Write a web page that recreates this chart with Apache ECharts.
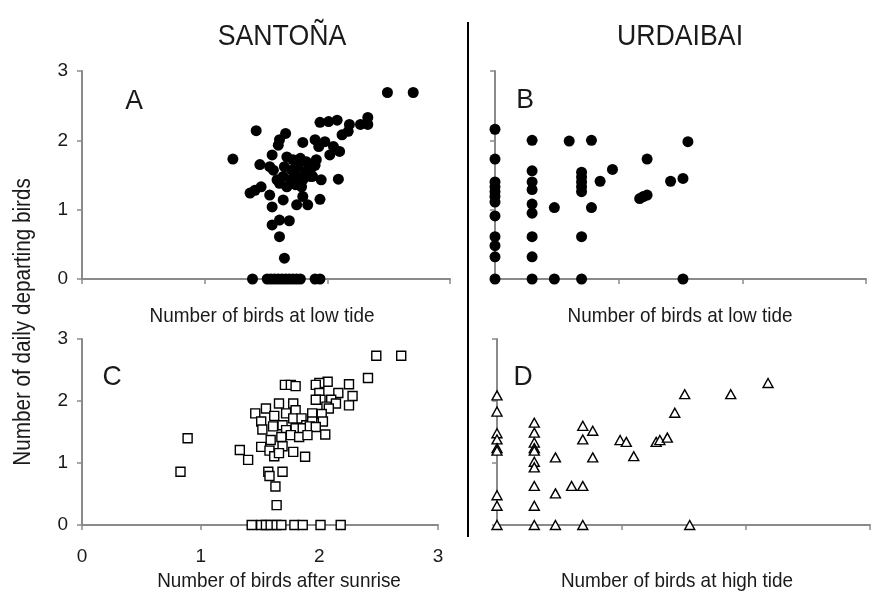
<!DOCTYPE html>
<html>
<head>
<meta charset="utf-8">
<script src="https://cdn.jsdelivr.net/npm/echarts@6/dist/echarts.min.js"></script>
<style>
html,body{margin:0;padding:0;background:#fff;}
#chart{width:877px;height:592px;}
</style>
</head>
<body>
<div id="chart"></div>
<script>
// ---- Data (x, y) ----
const siteTitles = ['SANTOÑA', 'URDAIBAI'];
const panelLetters = ['A', 'B', 'C', 'D'];
const xAxisNames = ['Number of birds at low tide', 'Number of birds at low tide', 'Number of birds after sunrise', 'Number of birds at high tide'];
const yAxisName = 'Number of daily departing birds';
const tickValues = [0, 1, 2, 3];

const santonaLowTide = [
  [2.49,2.69],[2.70,2.69],
  [2.33,2.33],[2.33,2.23],[2.27,2.23],[2.18,2.23],[2.17,2.13],[2.12,2.08],[2.08,2.29],[2.01,2.27],[1.94,2.26],
  [1.42,2.14],[1.66,2.10],[1.61,2.01],[1.60,1.93],
  [1.80,1.97],[1.90,2.01],[1.98,1.98],[1.93,1.91],[2.05,1.91],[2.10,1.84],[2.02,1.79],
  [1.23,1.73],[1.45,1.65],[1.55,1.79],[1.53,1.62],[1.56,1.57],
  [1.67,1.76],[1.72,1.72],[1.78,1.74],[1.83,1.69],[1.65,1.62],[1.71,1.57],[1.76,1.62],[1.82,1.55],[1.87,1.60],
  [1.64,1.48],[1.70,1.43],[1.75,1.48],[1.80,1.43],[1.86,1.48],[1.61,1.38],[1.67,1.33],[1.74,1.36],[1.79,1.33],
  [1.59,1.43],[1.90,1.64],[1.91,1.72],
  [2.09,1.44],[1.95,1.43],[1.88,1.48],
  [1.37,1.24],[1.41,1.28],[1.46,1.33],[1.53,1.21],[1.55,1.04],
  [1.64,1.14],[1.75,1.07],[1.80,1.19],[1.84,1.07],[1.94,1.15],
  [1.55,0.78],[1.61,0.85],[1.69,0.84],[1.61,0.61],[1.65,0.30],
  [1.39,0],[1.51,0],[1.54,0],[1.57,0],[1.60,0],[1.63,0],[1.66,0],[1.69,0],[1.72,0],[1.75,0],[1.78,0],[1.90,0],[1.94,0]
];

const urdaibaiLowTide = [
  [0,2.16],[0,1.73],[0,1.40],[0,1.33],[0,1.26],[0,1.19],[0,1.11],[0,0.91],[0,0.61],[0,0.48],[0,0.32],[0,0],
  [0.30,2.00],[0.30,1.56],[0.30,1.40],[0.30,1.29],[0.30,1.08],[0.30,0.95],[0.30,0.61],[0.30,0.32],[0.30,0],
  [0.48,1.03],[0.48,0],[0.60,1.99],[0.78,2.00],
  [0.70,1.54],[0.70,1.47],[0.70,1.40],[0.70,1.33],[0.70,1.26],[0.70,0.61],[0.70,0],
  [0.78,1.03],[0.85,1.41],[0.95,1.58],[1.23,1.73],[1.17,1.16],[1.20,1.19],[1.23,1.21],
  [1.42,1.41],[1.52,1.45],[1.56,1.98],[1.52,0]
];

const santonaSunrise = [
  [0.89,1.40],[0.83,0.86],
  [2.48,2.73],[2.69,2.73],[2.41,2.37],[2.25,2.27],[2.28,2.08],[2.25,1.93],[2.16,2.13],[2.07,2.31],[2.00,2.29],
  [1.97,2.26],[2.00,2.13],[2.10,2.02],[2.01,2.02],[2.06,1.91],[2.14,1.96],[2.08,1.88],[1.97,2.02],[2.02,1.79],[1.94,1.80],
  [1.71,2.26],[1.76,2.26],[1.80,2.24],[1.66,1.96],[1.78,1.96],[1.55,1.88],[1.46,1.80],[1.62,1.76],[1.72,1.80],[1.80,1.85],
  [1.51,1.67],[1.52,1.54],[1.61,1.59],[1.69,1.61],[1.78,1.72],[1.85,1.72],[1.89,1.61],[1.94,1.67],[2.03,1.67],
  [1.80,1.56],[1.86,1.56],[1.92,1.59],[1.97,1.58],[1.72,1.53],[1.76,1.45],[1.83,1.42],[1.90,1.45],[2.05,1.46],
  [1.68,1.42],[1.59,1.37],[1.69,1.27],[1.78,1.18],[1.51,1.26],[1.58,1.20],[1.62,1.11],[1.66,1.16],
  [1.33,1.21],[1.40,1.05],[1.88,1.10],
  [1.57,0.86],[1.69,0.86],[1.58,0.79],[1.63,0.62],[1.64,0.32],
  [1.43,0],[1.51,0],[1.55,0],[1.59,0],[1.64,0],[1.68,0],[1.79,0],[1.86,0],[2.01,0],[2.18,0]
];

const urdaibaiHighTide = [
  [0,2.09],[0,1.83],[0,1.48],[0,1.38],[0,1.24],[0,1.20],[0,0.48],[0,0.31],[0,0],
  [0.30,1.65],[0.30,1.49],[0.30,1.33],[0.30,1.24],[0.30,1.20],[0.30,1.02],[0.30,0.93],[0.30,0.63],[0.30,0.31],[0.30,0],
  [0.47,1.09],[0.47,0.51],[0.47,0],
  [0.60,0.63],[0.69,0.63],[0.69,1.60],[0.77,1.52],[0.69,1.38],[0.77,1.09],[0.69,0],
  [0.99,1.37],[1.04,1.34],[1.10,1.11],[1.28,1.34],[1.31,1.37],[1.37,1.41],[1.43,1.81],[1.51,2.11],[1.55,0],
  [1.88,2.11],[2.18,2.29]
];

// ---- Styling / layout ----
const FONT = "'Liberation Sans', Arial, sans-serif";
const TXT = '#1a1a1a';
const AXIS_COLOR = '#8a8a8a';

const grids = [
  {left: 82, top: 71, width: 368, height: 208},
  {left: 495, top: 71, width: 371, height: 208},
  {left: 82, top: 339, width: 356, height: 186},
  {left: 497, top: 339, width: 373, height: 186}
];

function makeAxis(type, gridIndex, showLabel) {
  return {
    type: 'value', gridIndex: gridIndex,
    min: tickValues[0], max: tickValues[tickValues.length - 1], interval: 1,
    splitLine: {show: false},
    axisLine: {show: true, onZero: false, lineStyle: {color: AXIS_COLOR, width: 2}},
    axisTick: {show: true, length: 5, lineStyle: {color: AXIS_COLOR, width: 1.5}},
    axisLabel: {show: showLabel, color: TXT, fontFamily: FONT, fontSize: 19,
      margin: type === 'x' ? 22 : 14}
  };
}

function label(text, x, y, size, sx, rot) {
  return {type: 'text', x: x, y: y, scaleX: sx, rotation: rot || 0,
    style: {text: text, font: size + 'px ' + FONT, fill: TXT, textAlign: 'center', textVerticalAlign: 'middle'}};
}

const chart = echarts.init(document.getElementById('chart'), null, {renderer: 'canvas'});

const option = {
  animation: false,
  backgroundColor: '#fff',
  grid: grids.map(g => Object.assign({containLabel: false}, g)),
  xAxis: [makeAxis('x', 0, false), makeAxis('x', 1, false), makeAxis('x', 2, true), makeAxis('x', 3, false)],
  yAxis: [makeAxis('y', 0, true), makeAxis('y', 1, false), makeAxis('y', 2, true), makeAxis('y', 3, false)],
  series: [
    {type: 'scatter', xAxisIndex: 0, yAxisIndex: 0, data: santonaLowTide, clip: false,
      symbol: 'circle', symbolSize: 11, itemStyle: {color: '#000', opacity: 1}},
    {type: 'scatter', xAxisIndex: 1, yAxisIndex: 1, data: urdaibaiLowTide, clip: false,
      symbol: 'circle', symbolSize: 11, itemStyle: {color: '#000', opacity: 1}},
    {type: 'scatter', xAxisIndex: 2, yAxisIndex: 2, data: santonaSunrise, clip: false,
      symbol: 'rect', symbolSize: 9, itemStyle: {color: '#fff', borderColor: '#000', borderWidth: 1.4, opacity: 1}},
    {type: 'scatter', xAxisIndex: 3, yAxisIndex: 3, data: urdaibaiHighTide, clip: false,
      symbol: 'triangle', symbolSize: [10, 9], itemStyle: {color: '#fff', borderColor: '#000', borderWidth: 1.4, opacity: 1}}
  ],
  graphic: [
    {type: 'line', shape: {x1: 468, y1: 22, x2: 468, y2: 537}, style: {stroke: '#000', lineWidth: 2}},
    label(siteTitles[0], 282, 37, 30, 0.89),
    label(siteTitles[1], 680, 37, 30, 0.89),
    label(panelLetters[0], 134, 101, 28, 0.95),
    label(panelLetters[1], 525, 100, 28, 0.95),
    label(panelLetters[2], 112, 377, 28, 0.95),
    label(panelLetters[3], 523, 377, 28, 0.95),
    label(xAxisNames[0], 262, 316, 21, 0.9),
    label(xAxisNames[1], 680, 316, 21, 0.9),
    label(xAxisNames[2], 279, 581, 21, 0.9),
    label(xAxisNames[3], 677, 581, 21, 0.9),
    label(yAxisName, 24, 322, 23, 0.9, Math.PI / 2)
  ]
};
chart.setOption(option);
</script>
</body>
</html>
